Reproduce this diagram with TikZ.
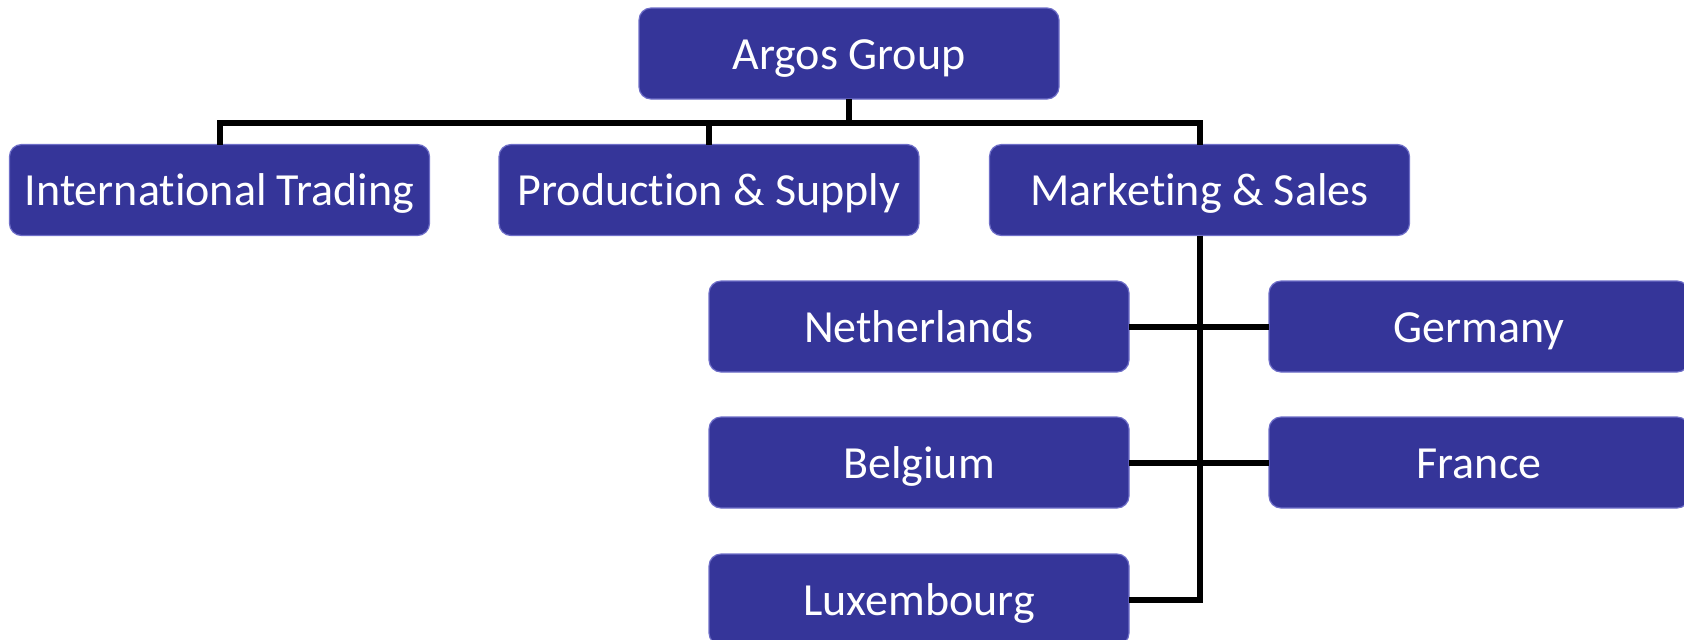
\documentclass[tikz,border=0pt]{standalone}
\usepackage{fontspec}
\setmainfont{Carlito}[Ligatures=NoCommon]
\definecolor{boxblue}{RGB}{53,53,153}
\definecolor{boxedge}{RGB}{110,110,200}
\tikzset{
  unit/.style={draw=boxedge,line width=0.6pt,fill=boxblue,text=white,rounded corners=6pt,
    minimum width=210pt,minimum height=45.5pt,inner sep=0pt,outer sep=0pt,
    text height=15.5pt,text depth=0pt,
    font=\fontsize{23}{27}\selectfont},
  link/.style={line width=3pt,line join=miter}
}
\begin{document}
\begin{tikzpicture}[x=0.5pt,y=-0.5pt]
\clip (0,0) rectangle (1684,639);
% top
\node[unit] (argos) at (849,53.5) {Argos Group};
% divisions
\node[unit] (intl) at (219.5,190) {International Trading};
\node[unit] (prod) at (709,190) {Production \& Supply};
\node[unit] (mkt) at (1199.5,190) {Marketing \& Sales};
% countries
\node[unit] (neth) at (919,326.5) {Netherlands};
\node[unit] (ger) at (1479,326.5) {Germany};
\node[unit] (belg) at (919,462.5) {Belgium};
\node[unit] (fra) at (1479,462.5) {France};
\node[unit] (lux) at (919,599.5) {Luxembourg};
% lines
\coordinate (bus) at (849,123);
\draw[link] (argos.south) -- (bus);
\draw[link] (intl.north) |- (bus) -| (mkt.north);
\draw[link] (prod.north) -- (prod.north |- bus);
\draw[link] (mkt.south) |- (lux.east);
\draw[link] (neth.east) -- (ger.west);
\draw[link] (belg.east) -- (fra.west);
\end{tikzpicture}
\end{document}
